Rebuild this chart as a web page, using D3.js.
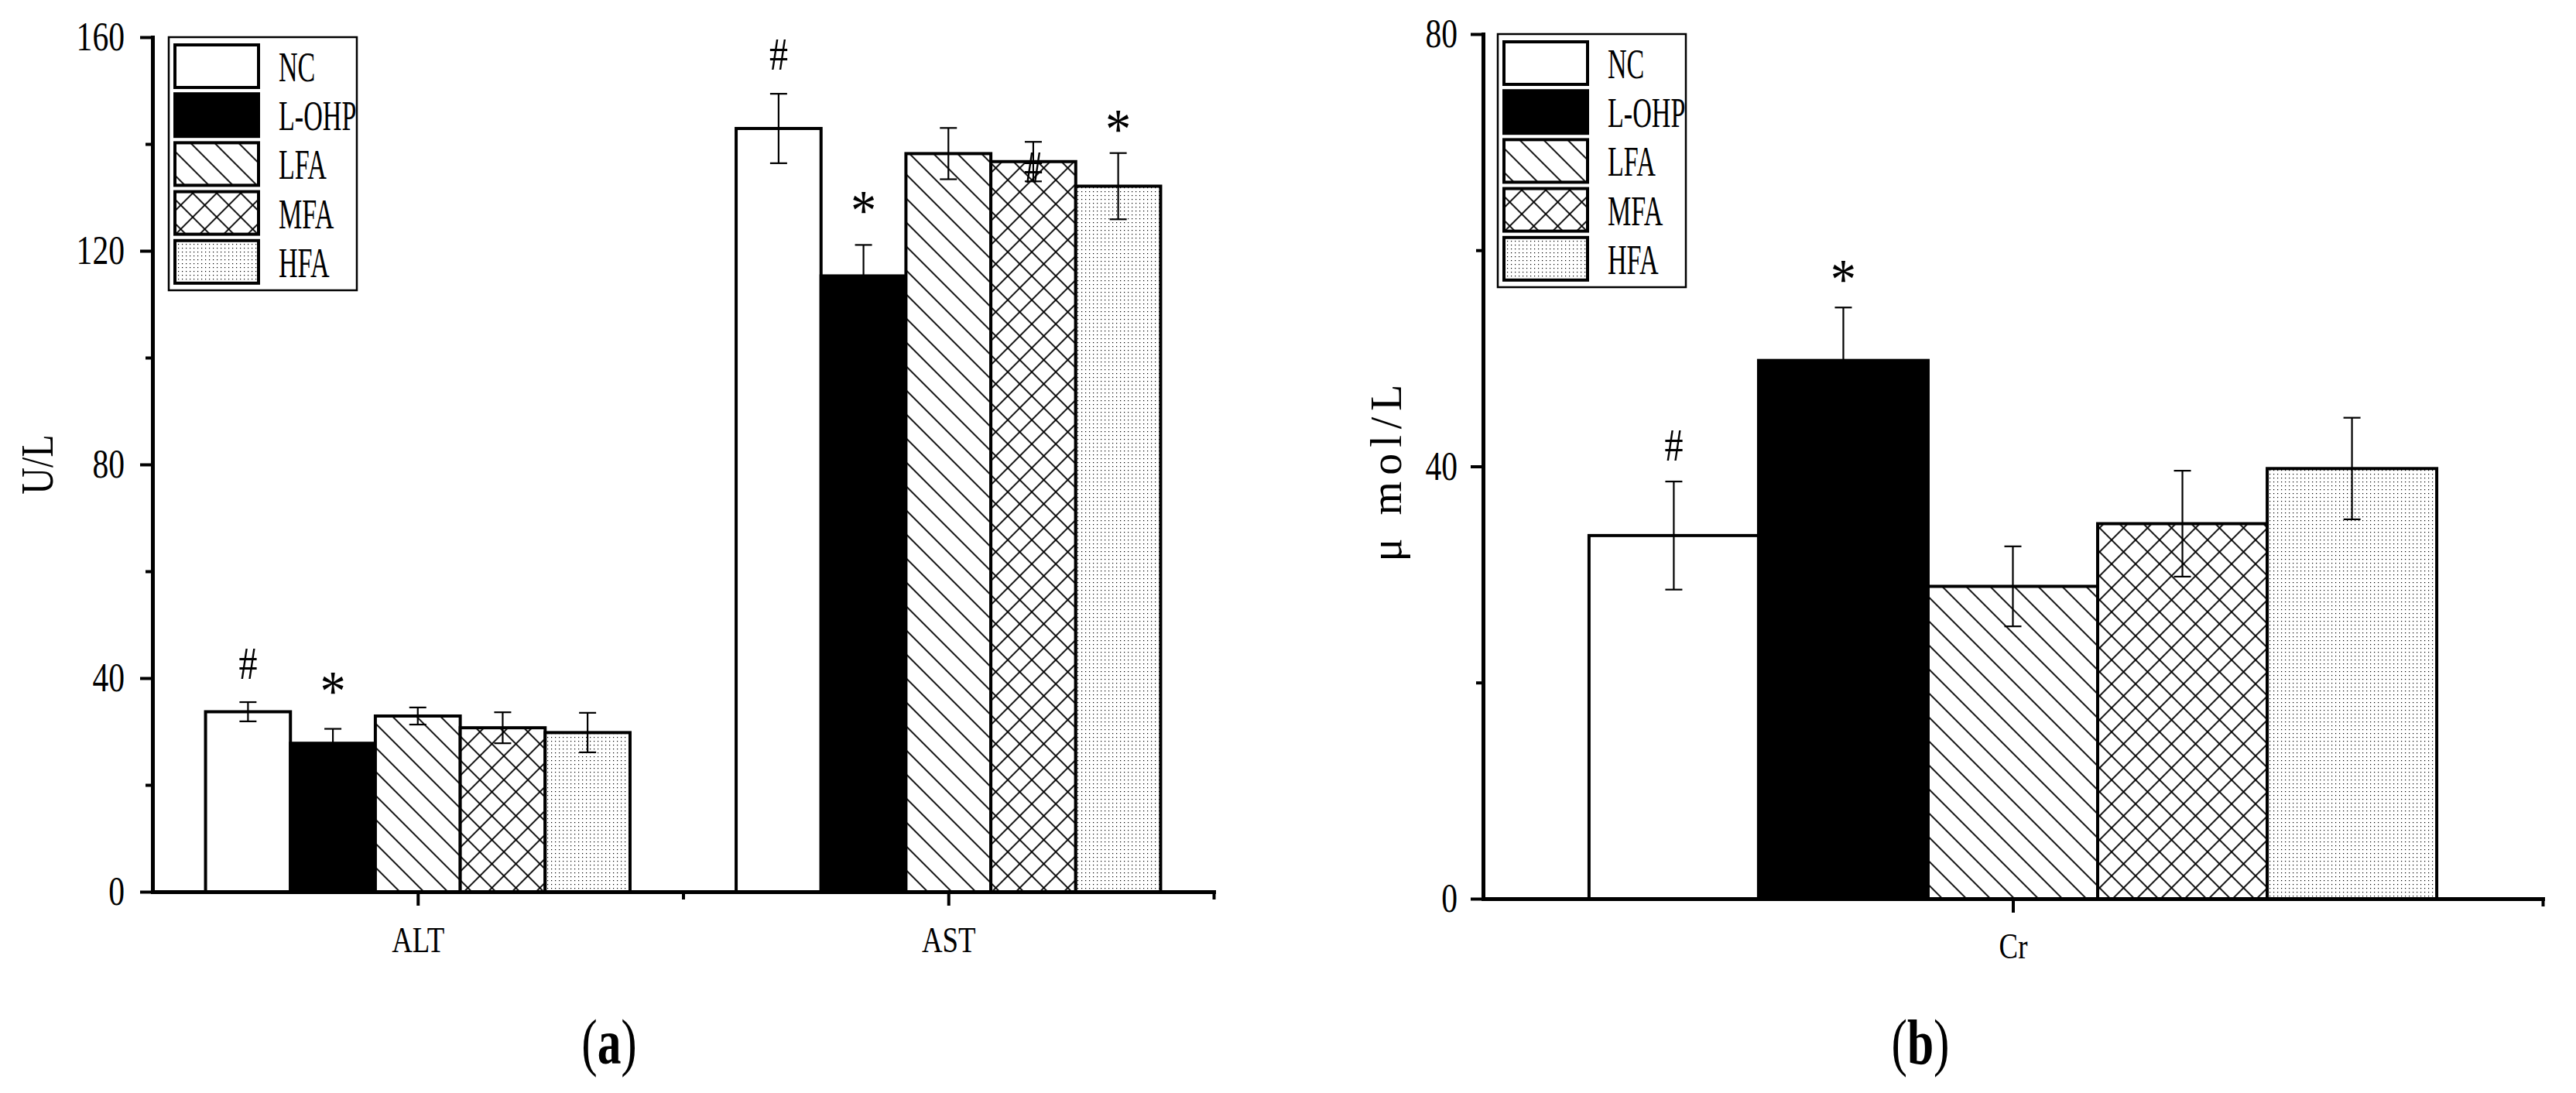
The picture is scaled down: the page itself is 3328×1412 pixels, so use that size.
<!DOCTYPE html>
<html><head><meta charset="utf-8">
<script src="https://cdn.jsdelivr.net/npm/d3@7"></script>
<style>html,body{margin:0;padding:0;background:#fff}</style>
</head><body>
<svg id="chart" width="3328" height="1412"></svg>
<script>
// ---------------- data ----------------
const groups = ["NC", "L-OHP", "LFA", "MFA", "HFA"];

const panelACategories = ["ALT", "AST"];
const altMeans = [33.7, 27.8, 32.9, 30.7, 29.8];
const altErr   = [1.8, 2.7, 1.6, 2.9, 3.7];
const astMeans = [142.9, 115.3, 138.2, 136.7, 132.1];
const astErr   = [6.5, 5.8, 4.8, 3.7, 6.2];
const altMarks = ["#", "*", "", "", ""];
const altMarkY = [42.8, 39.0, null, null, null];
const astMarks = ["#", "*", "", "#", "*"];
const astMarkY = [156.8, 129.0, null, 135.6, 144.2];
const panelAYTicks = [0, 40, 80, 120, 160];
const panelAYMinor = [20, 60, 100, 140];
const panelAYLabel = "U/L";

const panelBCategories = ["Cr"];
const crMeans = [33.6, 49.8, 28.9, 34.7, 39.8];
const crErr   = [5.0, 4.9, 3.7, 4.9, 4.7];
const crMarks = ["#", "*", "", "", ""];
const crMarkY = [42.0, 58.0, null, null, null];
const panelBYTicks = [0, 40, 80];
const panelBYMinor = [20, 60];
const panelBYLabel = "μ mol/L";

const panelLabels = ["a", "b"];

// ---------------- drawing ----------------
const svg = d3.select("#chart");
svg.append("rect").attr("width", 3328).attr("height", 1412).attr("fill", "#fff");
const FONT = "'Liberation Serif', 'Times New Roman', serif";
const SX = 0.8;

const defs = svg.append("defs");
const ph = defs.append("pattern").attr("id", "hatch").attr("patternUnits", "userSpaceOnUse")
  .attr("width", 21.92).attr("height", 20).attr("patternTransform", "rotate(-45)");
ph.append("rect").attr("width", 21.92).attr("height", 20).attr("fill", "#fff");
ph.append("line").attr("x1", 10.96).attr("x2", 10.96).attr("y1", -1).attr("y2", 21)
  .attr("stroke", "#000").attr("stroke-width", 1.8);
const pc = defs.append("pattern").attr("id", "cross").attr("patternUnits", "userSpaceOnUse")
  .attr("width", 21.92).attr("height", 21.92).attr("patternTransform", "rotate(45)");
pc.append("rect").attr("width", 21.92).attr("height", 21.92).attr("fill", "#fff");
pc.append("line").attr("x1", 10.96).attr("x2", 10.96).attr("y1", -1).attr("y2", 23)
  .attr("stroke", "#000").attr("stroke-width", 1.8);
pc.append("line").attr("y1", 10.96).attr("y2", 10.96).attr("x1", -1).attr("x2", 23)
  .attr("stroke", "#000").attr("stroke-width", 1.8);
const pd = defs.append("pattern").attr("id", "dots").attr("patternUnits", "userSpaceOnUse")
  .attr("width", 5).attr("height", 5);
pd.append("rect").attr("width", 5).attr("height", 5).attr("fill", "#fff");
pd.append("rect").attr("x", 2).attr("y", 2).attr("width", 1.2).attr("height", 1.2).attr("fill", "#000");

const fills = ["#fff", "#000", "url(#hatch)", "url(#cross)", "url(#dots)"];

function ctext(g, x, y, str, size, anchor, sx) {
  return g.append("text")
    .attr("transform", `translate(${x},${y}) scale(${sx || SX},1)`)
    .attr("text-anchor", anchor || "middle")
    .style("font-family", FONT).style("font-size", size + "px").attr("fill", "#000")
    .text(str);
}

function styleAxis(g, fontSize) {
  g.select(".domain").attr("stroke-width", 5).attr("stroke", "#000").attr("stroke-linecap", "square");
  g.selectAll(".tick line").attr("stroke-width", 4).attr("stroke", "#000");
  g.selectAll(".tick text").each(function () {
    const t = d3.select(this);
    const x = +t.attr("x") || 0;
    t.attr("x", x / SX).attr("transform", `scale(${SX},1)`);
  }).style("font-family", FONT).style("font-size", fontSize + "px").attr("fill", "#000");
}

function drawPanel(cfg) {
  const g = svg.append("g");
  const x = d3.scaleLinear().domain([0.5, cfg.categories.length + 0.5]).range(cfg.xRange);
  const y = d3.scaleLinear().domain([0, cfg.yMax]).range(cfg.yRange);
  const bw = 0.16;

  cfg.categories.forEach((cat, ci) => {
    const means = cfg.means[ci], errs = cfg.errs[ci];
    const center = ci + 1;
    g.append("g").selectAll("rect").data(means).join("rect")
      .attr("x", (d, i) => x(center + (i - 2.5) * bw))
      .attr("width", x(center + bw) - x(center))
      .attr("y", d => y(d))
      .attr("height", d => y(0) - y(d))
      .attr("fill", (d, i) => fills[i])
      .attr("stroke", "#000").attr("stroke-width", 4);
    const eb = g.append("g").attr("stroke", "#000").attr("stroke-width", 2.2);
    means.forEach((m, i) => {
      const cx = x(center + (i - 2) * bw);
      const y1 = y(m + errs[i]), y2 = y(m - errs[i]);
      eb.append("line").attr("x1", cx).attr("x2", cx).attr("y1", y1).attr("y2", y2);
      eb.append("line").attr("x1", cx - 11).attr("x2", cx + 11).attr("y1", y1).attr("y2", y1);
      eb.append("line").attr("x1", cx - 11).attr("x2", cx + 11).attr("y1", y2).attr("y2", y2);
    });
    cfg.marks[ci].forEach((mk, i) => {
      if (!mk) return;
      const cx = x(center + (i - 2) * bw);
      const cy = y(cfg.markY[ci][i]);
      if (mk === "#") ctext(g, cx, cy + 20, "#", 60, "middle");
      else ctext(g, cx, cy + 35, "*", 74, "middle", 0.9);
    });
  });

  const ya = g.append("g").attr("transform", `translate(${cfg.xRange[0]},0)`)
    .call(d3.axisLeft(y).tickValues(cfg.yTicks).tickSize(16).tickPadding(cfg.yPad).tickSizeOuter(0));
  styleAxis(ya, 52);
  const yam = g.append("g").attr("transform", `translate(${cfg.xRange[0]},0)`)
    .call(d3.axisLeft(y).tickValues(cfg.yMinor).tickSize(9).tickFormat(""));
  yam.select(".domain").remove();
  yam.selectAll(".tick line").attr("stroke-width", 4);

  const xa = g.append("g").attr("transform", `translate(0,${cfg.yRange[0]})`)
    .call(d3.axisBottom(x).tickValues(d3.range(1, cfg.categories.length + 1))
      .tickFormat(i => cfg.categories[i - 1]).tickSize(18).tickPadding(cfg.xPad).tickSizeOuter(0));
  styleAxis(xa, 46);
  const xam = g.append("g").attr("transform", `translate(0,${cfg.yRange[0]})`)
    .call(d3.axisBottom(x).tickValues(d3.range(1.5, cfg.categories.length + 1, 1)).tickSize(10).tickFormat(""));
  xam.select(".domain").remove();
  xam.selectAll(".tick line").attr("stroke-width", 4);

  g.append("text")
    .attr("transform", `translate(${cfg.yTitlePos[0]},${cfg.yTitlePos[1]}) rotate(-90) scale(${cfg.yTitleSX},1)`)
    .attr("text-anchor", "middle").style("font-family", FONT).style("font-size", cfg.yTitleSize + "px")
    .style("letter-spacing", cfg.yTitleLS + "px")
    .text(cfg.yTitle);

  const lx = cfg.xRange[0] + cfg.legendDx, ly = cfg.yRange[1];
  const lg = g.append("g").attr("transform", `translate(${lx},${ly})`);
  lg.append("rect").attr("x", 0).attr("y", 0).attr("width", 243).attr("height", 327)
    .attr("fill", "#fff").attr("stroke", "#000").attr("stroke-width", 2.5);
  groups.forEach((name, i) => {
    lg.append("rect").attr("x", 8).attr("y", 10 + i * 63.2).attr("width", 108).attr("height", 55)
      .attr("fill", fills[i]).attr("stroke", "#000").attr("stroke-width", 4);
    ctext(lg, 142, 10 + i * 63.2 + 47, name, 55, "start", 0.62);
  });

  const pl = g.append("text")
    .attr("transform", `translate(${cfg.labelX},1374) scale(0.75,1)`)
    .attr("text-anchor", "middle").style("font-family", FONT).style("font-size", "82px");
  pl.append("tspan").text("(");
  pl.append("tspan").style("font-weight", "bold").text(cfg.label);
  pl.append("tspan").text(")");
}

drawPanel({
  categories: panelACategories,
  means: [altMeans, astMeans], errs: [altErr, astErr],
  marks: [altMarks, astMarks], markY: [altMarkY, astMarkY],
  yMax: 160, yTicks: panelAYTicks, yMinor: panelAYMinor,
  xRange: [197, 1568], yRange: [1152, 48], xPad: 27, yPad: 20,
  yTitle: panelAYLabel, yTitlePos: [68, 600], yTitleSize: 60, yTitleSX: 0.8, yTitleLS: 0,
  legendDx: 21, label: panelLabels[0], labelX: 787
});
drawPanel({
  categories: panelBCategories,
  means: [crMeans], errs: [crErr],
  marks: [crMarks], markY: [crMarkY],
  yMax: 80, yTicks: panelBYTicks, yMinor: panelBYMinor,
  xRange: [1916, 3285], yRange: [1161, 44], xPad: 26, yPad: 17,
  yTitle: panelBYLabel, yTitlePos: [1810, 607], yTitleSize: 56, yTitleSX: 1, yTitleLS: 8,
  legendDx: 19, label: panelLabels[1], labelX: 2481
});
</script>
</body></html>
